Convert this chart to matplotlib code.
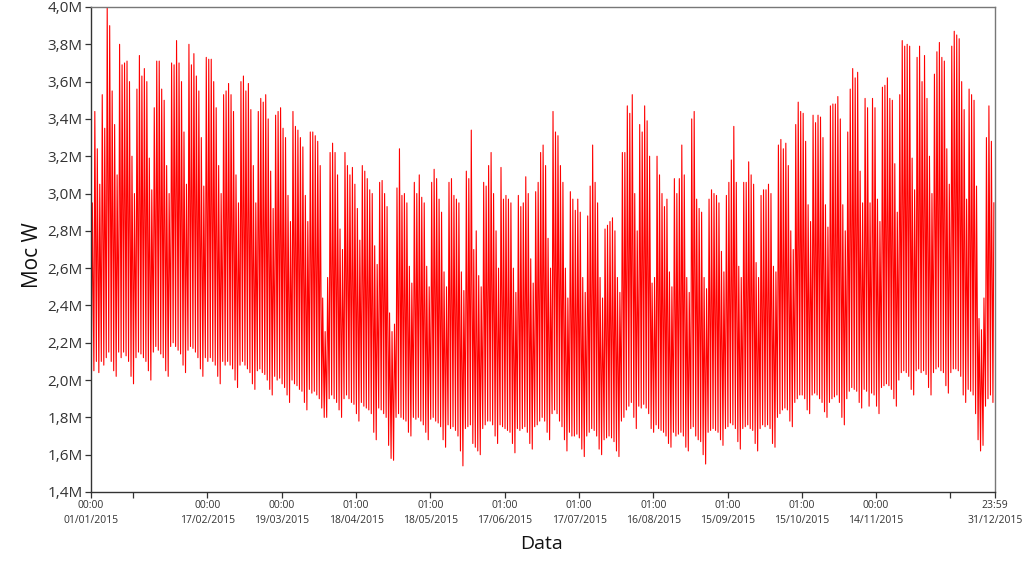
import numpy as np
import matplotlib
matplotlib.use("Agg")
import matplotlib.pyplot as plt
import matplotlib.dates as mdates
from matplotlib.ticker import FixedLocator

plt.rcParams['font.family'] = ['Open Sans', 'DejaVu Sans']

# Daily maximum load (in M units), 2015-01-01 .. 2015-12-31, rows = weeks (Mon..Sun)
daily_max = [
    2.95, 3.44, 3.24, 3.05,
    3.53, 3.35, 4.00, 3.90, 3.55, 3.37, 3.10,
    3.80, 3.69, 3.70, 3.71, 3.60, 3.20, 3.00,
    3.56, 3.74, 3.63, 3.67, 3.60, 3.19, 3.02,
    3.46, 3.71, 3.71, 3.56, 3.50, 3.15, 3.00,
    3.70, 3.69, 3.82, 3.70, 3.60, 3.33, 3.05,
    3.80, 3.69, 3.75, 3.63, 3.55, 3.30, 3.04,
    3.73, 3.72, 3.72, 3.60, 3.46, 3.15, 3.00,
    3.53, 3.55, 3.59, 3.53, 3.44, 3.10, 2.95,
    3.60, 3.63, 3.55, 3.59, 3.45, 3.15, 2.95,
    3.44, 3.51, 3.49, 3.53, 3.40, 3.12, 2.92,
    3.42, 3.44, 3.46, 3.35, 3.30, 2.99, 2.85,
    3.44, 3.36, 3.34, 3.30, 3.25, 2.99, 2.85,
    3.33, 3.33, 3.31, 3.28, 3.15, 2.44, 2.26,
    2.55, 3.22, 3.27, 3.22, 3.10, 2.81, 2.70,
    3.22, 3.15, 3.10, 3.14, 3.05, 2.92, 2.75,
    3.15, 3.12, 3.08, 3.02, 3.00, 2.72, 2.62,
    3.06, 3.07, 3.00, 2.93, 2.36, 2.26, 2.30,
    3.03, 3.24, 2.99, 3.00, 2.95, 2.61, 2.52,
    3.06, 3.00, 3.10, 2.98, 2.95, 2.61, 2.50,
    3.06, 3.13, 3.08, 2.97, 2.90, 2.58, 2.50,
    3.06, 3.08, 2.99, 2.97, 2.95, 2.58, 2.48,
    3.12, 3.08, 3.34, 2.70, 2.80, 2.56, 2.50,
    3.06, 3.04, 3.15, 3.22, 3.00, 2.80, 2.60,
    3.14, 2.97, 2.99, 2.97, 2.95, 2.60, 2.47,
    2.99, 2.93, 2.95, 3.09, 3.00, 2.65, 2.52,
    3.01, 3.06, 3.22, 3.26, 3.15, 2.76, 2.60,
    3.44, 3.33, 3.31, 3.15, 3.06, 2.60, 2.44,
    3.01, 2.97, 2.91, 2.97, 2.90, 2.55, 2.47,
    2.88, 3.04, 3.26, 3.06, 2.95, 2.55, 2.44,
    2.81, 2.83, 2.85, 2.87, 2.80, 2.55, 2.47,
    3.22, 3.22, 3.47, 3.43, 3.53, 3.00, 2.80,
    3.37, 3.33, 3.47, 3.39, 3.20, 2.52, 2.55,
    3.20, 3.10, 3.00, 2.93, 2.97, 2.58, 2.50,
    3.08, 3.00, 3.08, 3.26, 3.10, 2.55, 2.47,
    3.40, 3.44, 2.97, 2.92, 2.90, 2.55, 2.49,
    2.97, 3.02, 3.00, 2.99, 2.95, 2.69, 2.58,
    2.99, 3.06, 3.18, 3.36, 3.06, 2.61, 2.55,
    3.06, 3.06, 3.17, 3.10, 3.05, 2.63, 2.55,
    2.99, 3.02, 3.02, 3.05, 3.00, 2.61, 2.58,
    3.26, 3.29, 3.24, 3.27, 3.15, 2.80, 2.70,
    3.37, 3.49, 3.44, 3.43, 3.28, 2.94, 2.85,
    3.42, 3.38, 3.42, 3.41, 3.30, 2.94, 2.82,
    3.47, 3.48, 3.48, 3.52, 3.40, 2.94, 2.80,
    3.33, 3.56, 3.67, 3.62, 3.65, 3.12, 2.95,
    3.51, 3.46, 2.95, 3.51, 3.46, 2.97, 2.85,
    3.57, 3.58, 3.62, 3.51, 3.50, 3.16, 2.90,
    3.53, 3.82, 3.79, 3.80, 3.79, 3.19, 3.02,
    3.73, 3.79, 3.60, 3.74, 3.51, 3.20, 3.00,
    3.64, 3.76, 3.81, 3.73, 3.71, 3.24, 3.05,
    3.79, 3.87, 3.85, 3.83, 3.60, 3.45, 2.97,
    3.56, 3.53, 3.50, 3.04, 2.33, 2.27, 2.44,
    3.30, 3.47, 3.28, 2.95,
]

# Daily minimum load
daily_min = [
    2.12, 2.05, 2.10, 2.04,
    2.10, 2.08, 2.12, 2.15, 2.10, 2.05, 2.02,
    2.15, 2.12, 2.15, 2.13, 2.10, 2.02, 1.98,
    2.12, 2.15, 2.14, 2.12, 2.10, 2.05, 2.00,
    2.15, 2.18, 2.16, 2.14, 2.12, 2.05, 2.02,
    2.18, 2.20, 2.18, 2.16, 2.14, 2.08, 2.04,
    2.16, 2.18, 2.17, 2.15, 2.12, 2.06, 2.02,
    2.12, 2.10, 2.12, 2.10, 2.08, 2.02, 1.98,
    2.10, 2.08, 2.10, 2.08, 2.06, 2.00, 1.96,
    2.08, 2.10, 2.08, 2.06, 2.04, 1.98, 1.95,
    2.05, 2.06, 2.04, 2.03, 2.00, 1.95, 1.92,
    2.02, 2.00, 2.01, 1.98, 1.96, 1.92, 1.88,
    2.00, 1.98, 1.97, 1.95, 1.94, 1.88, 1.84,
    1.95, 1.93, 1.94, 1.92, 1.90, 1.85, 1.80,
    1.80, 1.90, 1.92, 1.90, 1.88, 1.84, 1.80,
    1.90, 1.92, 1.90, 1.88, 1.87, 1.82, 1.78,
    1.88, 1.86, 1.85, 1.84, 1.82, 1.72, 1.68,
    1.85, 1.84, 1.82, 1.80, 1.65, 1.58, 1.57,
    1.80, 1.82, 1.80, 1.79, 1.78, 1.72, 1.70,
    1.80, 1.79, 1.80, 1.78, 1.76, 1.72, 1.68,
    1.79, 1.80, 1.78, 1.77, 1.75, 1.68, 1.64,
    1.76, 1.74, 1.75, 1.73, 1.70, 1.62, 1.54,
    1.74, 1.75, 1.76, 1.66, 1.64, 1.62, 1.60,
    1.74, 1.76, 1.78, 1.78, 1.76, 1.70, 1.66,
    1.76, 1.75, 1.74, 1.73, 1.72, 1.66, 1.61,
    1.74, 1.73, 1.74, 1.75, 1.72, 1.66, 1.63,
    1.75, 1.76, 1.78, 1.80, 1.78, 1.72, 1.68,
    1.82, 1.84, 1.82, 1.78, 1.75, 1.68, 1.62,
    1.72, 1.70, 1.70, 1.71, 1.69, 1.63, 1.59,
    1.70, 1.72, 1.74, 1.73, 1.70, 1.63, 1.60,
    1.68, 1.69, 1.70, 1.69, 1.67, 1.62, 1.59,
    1.78, 1.80, 1.84, 1.86, 1.88, 1.80, 1.74,
    1.86, 1.85, 1.87, 1.85, 1.82, 1.74, 1.72,
    1.76, 1.74, 1.73, 1.72, 1.70, 1.66, 1.64,
    1.72, 1.70, 1.71, 1.72, 1.70, 1.64, 1.62,
    1.74, 1.75, 1.70, 1.68, 1.67, 1.60, 1.55,
    1.72, 1.73, 1.74, 1.73, 1.72, 1.68, 1.65,
    1.74, 1.75, 1.77, 1.76, 1.74, 1.67, 1.63,
    1.74, 1.75, 1.76, 1.74, 1.73, 1.66, 1.62,
    1.74, 1.76, 1.75, 1.76, 1.74, 1.66, 1.64,
    1.80, 1.82, 1.84, 1.85, 1.84, 1.78, 1.75,
    1.88, 1.90, 1.92, 1.92, 1.90, 1.84, 1.82,
    1.92, 1.93, 1.92, 1.90, 1.88, 1.83, 1.80,
    1.88, 1.90, 1.91, 1.92, 1.88, 1.80, 1.76,
    1.90, 1.94, 1.96, 1.95, 1.94, 1.88, 1.85,
    1.95, 1.94, 1.86, 1.93, 1.92, 1.86, 1.82,
    1.96, 1.97, 1.98, 1.97, 1.95, 1.90, 1.86,
    2.00, 2.04, 2.05, 2.04, 2.02, 1.95, 1.92,
    2.05, 2.06, 2.04, 2.05, 2.03, 1.96, 1.92,
    2.04, 2.06, 2.07, 2.05, 2.04, 1.97, 1.93,
    2.04, 2.06, 2.06, 2.05, 2.02, 1.92, 1.88,
    1.95, 1.94, 1.92, 1.82, 1.68, 1.62, 1.65,
    1.86, 1.90, 1.92, 1.88,
]

tick_times = ['2015-01-01T00:00', '2015-01-18T00:00', '2015-02-17T00:00', '2015-03-19T00:00',
              '2015-04-18T01:00', '2015-05-18T01:00', '2015-06-17T01:00', '2015-07-17T01:00',
              '2015-08-16T01:00', '2015-09-15T01:00', '2015-10-15T01:00', '2015-11-14T00:00',
              '2015-12-14T00:00', '2015-12-31T23:59']
tick_labels = ['00:00\n01/01/2015', '', '00:00\n17/02/2015', '00:00\n19/03/2015',
               '01:00\n18/04/2015', '01:00\n18/05/2015', '01:00\n17/06/2015', '01:00\n17/07/2015',
               '01:00\n16/08/2015', '01:00\n15/09/2015', '01:00\n15/10/2015', '00:00\n14/11/2015',
               '', '23:59\n31/12/2015']
y_ticks = [1.4, 1.6, 1.8, 2.0, 2.2, 2.4, 2.6, 2.8, 3.0, 3.2, 3.4, 3.6, 3.8, 4.0]

# time series: nightly minimum (04:00) and daytime maximum (13:00) for each day
days = np.datetime64('2015-01-01T00:00') + np.arange(len(daily_max)) * np.timedelta64(1, 'D')
times = np.empty(2 * len(days), dtype='datetime64[m]')
times[0::2] = days + np.timedelta64(4, 'h')
times[1::2] = days + np.timedelta64(13, 'h')
vals = np.empty(2 * len(days))
vals[0::2] = daily_min
vals[1::2] = daily_max

fig = plt.figure(figsize=(10.23, 5.68), dpi=100)
ax = fig.add_axes([91 / 1023, 1 - 492 / 568, (995 - 91) / 1023, (492 - 7) / 568])
ax.plot(times.astype('datetime64[ms]').astype(object), vals, color='#ff0000', linewidth=0.8)

ax.set_xlim(np.datetime64('2015-01-01T00:00').astype('datetime64[ms]').astype(object),
            np.datetime64('2015-12-31T23:59').astype('datetime64[ms]').astype(object))
ax.set_ylim(1.4, 4.0)

tick_pos = [mdates.date2num(np.datetime64(t).astype('datetime64[ms]').astype(object)) for t in tick_times]
ax.xaxis.set_major_locator(FixedLocator(tick_pos))
ax.set_xticklabels(tick_labels, fontsize=7.5, color='#333333', linespacing=1.45)
ax.set_yticks(y_ticks)
ax.set_yticklabels([('%.1fM' % v).replace('.', ',') for v in y_ticks], fontsize=11, color='#333333')
ax.tick_params(axis='both', direction='out', length=4, width=0.9, color='#333333', pad=2)

for s in ax.spines.values():
    s.set_color('#333333')
    s.set_linewidth(1.0)
for s in ['top', 'right']:
    ax.spines[s].set_color('#777777')

fig.text(33 / 1023, 1 - 255 / 568, 'Moc W', rotation=90, fontsize=15, ha='center', va='center', color='#111111')
fig.text(541 / 1023, 1 - 544 / 568, 'Data', fontsize=14, ha='center', va='center', color='#111111')

fig.savefig('out.png', dpi=100)
